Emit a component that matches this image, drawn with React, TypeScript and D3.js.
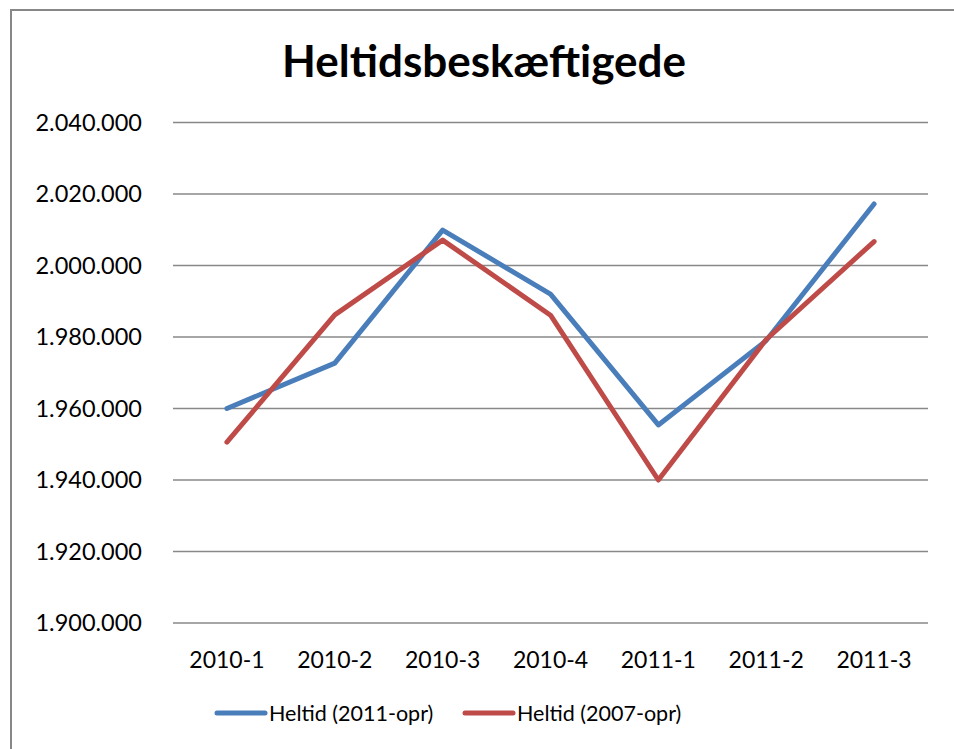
import React from 'react';
import * as d3 from 'd3';

const categories = ['2010-1', '2010-2', '2010-3', '2010-4', '2011-1', '2011-2', '2011-3'];
const heltid2011 = [1960000, 1972700, 2009900, 1992000, 1955400, 1979000, 2017200];
const heltid2007 = [1950600, 1986200, 2007100, 1986100, 1940000, 1979300, 2006700];
const yTicks = [1900000, 1920000, 1940000, 1960000, 1980000, 2000000, 2020000, 2040000];

const series = [
  { name: 'Heltid (2011-opr)', values: heltid2011, color: '#4A7EBB' },
  { name: 'Heltid (2007-opr)', values: heltid2007, color: '#BE4B48' },
];

const W = 954;
const H = 749;
const font = 'Lato, "Open Sans", sans-serif';

const fmt = d3.formatLocale({ decimal: ',', thousands: '.', grouping: [3], currency: ['', ' kr'] }).format(',');

const App = () => {
  const x = d3.scalePoint<string>().domain(categories).range([173, 928]).padding(0.5);
  const y = d3.scaleLinear().domain([1900000, 2040000]).range([623, 122.5]);

  const line = d3
    .line<number>()
    .x((_, i) => x(categories[i]) as number)
    .y(d => y(d));

  return (
    <div style={{ position: 'absolute', left: 0, top: 0 }}>
      <svg width={W} height={H} style={{ display: 'block' }}>
        <rect x={0} y={0} width={W} height={H} fill="#fff" />
        <rect x={11} y={10} width={W} height={H} fill="none" stroke="#878787" strokeWidth={2} />
        <text x={484} y={77} textAnchor="middle" fontFamily={font} fontWeight="bold" fontSize={44} fill="#000">
          Heltidsbeskæftigede
        </text>
        {yTicks.map(t => (
          <g key={t}>
            <line x1={173} x2={928} y1={y(t)} y2={y(t)} stroke="#888" strokeWidth={1.6} />
            <text x={142} y={y(t)} dy="0.35em" textAnchor="end" fontFamily={font} fontSize={23.5} fill="#000">
              {fmt(t)}
            </text>
          </g>
        ))}
        {categories.map(c => (
          <text key={c} x={x(c)} y={668} textAnchor="middle" fontFamily={font} fontSize={23} fill="#000">
            {c}
          </text>
        ))}
        {series.map(s => (
          <path
            key={s.name}
            d={line(s.values) || ''}
            fill="none"
            stroke={s.color}
            strokeWidth={5}
            strokeLinejoin="round"
            strokeLinecap="round"
          />
        ))}
        {series.map((s, i) => {
          const lx = 217 + i * 248;
          return (
            <g key={s.name}>
              <line x1={lx} x2={lx + 48} y1={713} y2={713} stroke={s.color} strokeWidth={5} strokeLinecap="round" />
              <text x={lx + 52} y={713} dy="0.35em" fontFamily={font} fontSize={21.5} fill="#000">
                {s.name}
              </text>
            </g>
          );
        })}
      </svg>
    </div>
  );
};

export default App;
